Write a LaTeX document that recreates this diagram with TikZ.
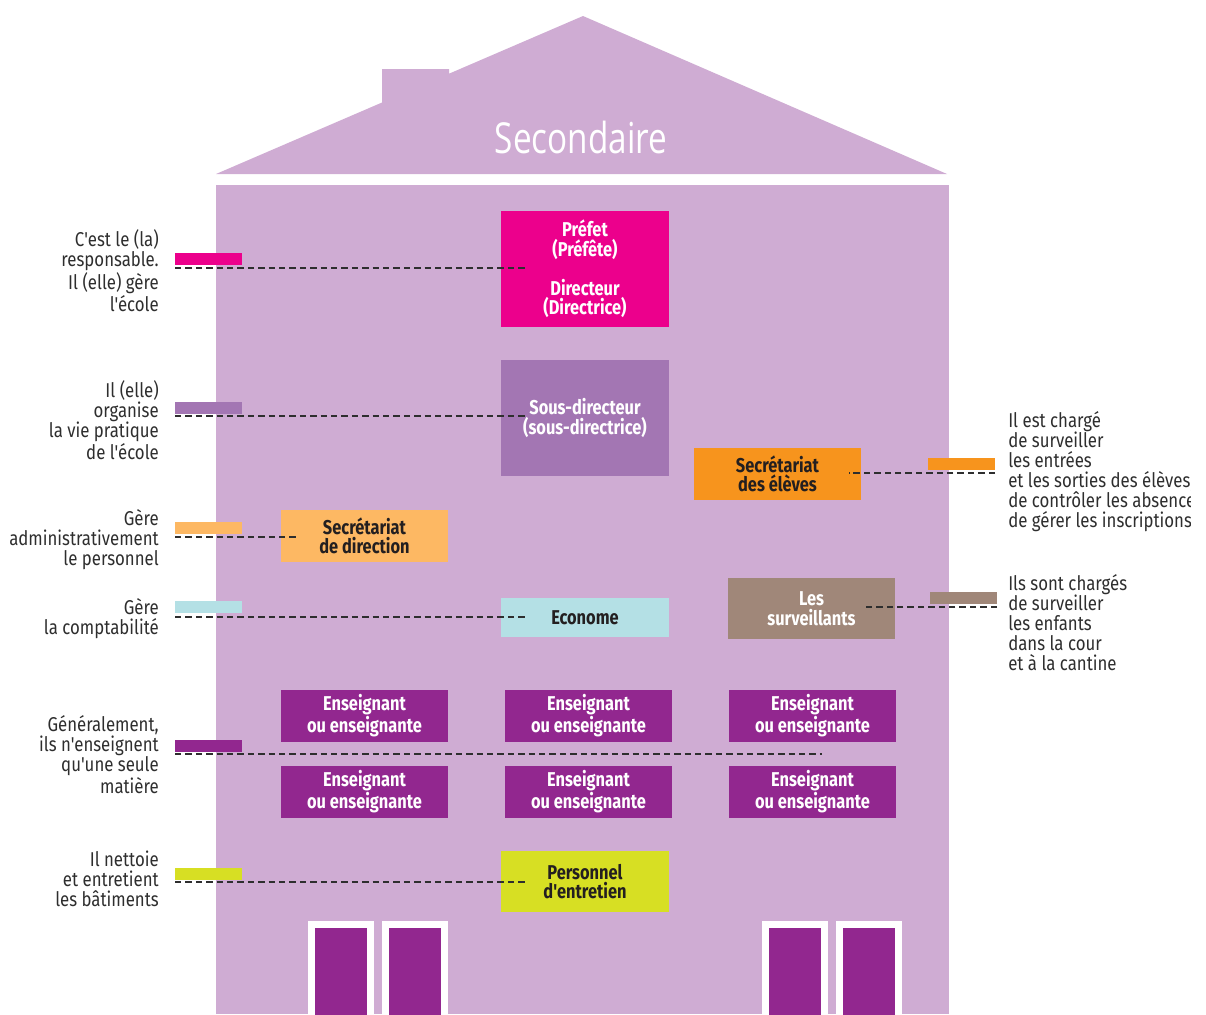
\documentclass[tikz,border=0pt]{standalone}
\usepackage{fontspec}
\newfontfamily\labfont[FakeStretch=0.84]{Fira Sans}
\newfontfamily\boxfont[FakeStretch=0.82]{Fira Sans}
\newfontfamily\titlefont[FakeStretch=0.78]{Open Sans}
\definecolor{house}{HTML}{CFACD3}
\definecolor{cprefet}{HTML}{EC008C}
\definecolor{csous}{HTML}{A376B3}
\definecolor{corange}{HTML}{F7941D}
\definecolor{clorange}{HTML}{FDB863}
\definecolor{ccyan}{HTML}{B4E0E5}
\definecolor{ctaupe}{HTML}{A08779}
\definecolor{cpurple}{HTML}{92278F}
\definecolor{clime}{HTML}{D7DF23}
\definecolor{cdark}{HTML}{231F20}
\definecolor{labgray}{HTML}{2E2E2E}
\tikzset{
  box/.style={rectangle, inner sep=0pt, align=center,
    font=\boxfont\bfseries\fontsize{15}{14.6}\selectfont},
  lab/.style={inner sep=0pt, text=labgray,
    font=\labfont\fontsize{15}{15}\selectfont},
  marker/.style={rectangle, inner sep=0pt, minimum width=50.25pt, minimum height=9pt},
  dashline/.style={draw=labgray, line width=1.1pt, dash pattern=on 4.8pt off 3pt},
}
\begin{document}
\begin{tikzpicture}[x=0.75pt,y=-0.75pt]
\useasboundingbox (0,0) rectangle (1206,1014);
% roof
\fill[house] (216,174) -- (382,102.5) -- (382,69) -- (449,69) -- (449,73.7) -- (583,16) -- (947,174) -- cycle;
\node[text=white, inner sep=0pt, font=\titlefont\fontsize{32}{36}\selectfont] (title) at (581,137) {Secondaire};
% body
\fill[house] (216,185) rectangle (949,1014);
% doors
\foreach \x in {308,382,762,836}{
  \fill[white] (\x,921) rectangle ++(66,100);
  \fill[cpurple] (\x+7,928) rectangle ++(52,100);
}
% boxes
\node[box, fill=cprefet, text=white, minimum width=126pt, minimum height=87pt] (prefet) at (585,269) {Préfet\\(Préfête)\\[14.6pt]Directeur\\(Directrice)};
\node[box, fill=csous, text=white, minimum width=126pt, minimum height=87pt] (sous) at (585,418) {Sous-directeur\\(sous-directrice)};
\node[box, fill=corange, text=cdark, minimum width=125.25pt, minimum height=39pt] (secel) at (777.5,474) {Secrétariat\\des élèves};
\node[box, fill=clorange, text=cdark, minimum width=125.25pt, minimum height=39pt] (secdir) at (364.5,536) {Secrétariat\\de direction};
\node[box, fill=ccyan, text=cdark, minimum width=126pt, minimum height=29.25pt] (econome) at (585,617.5) {Econome};
\node[box, fill=ctaupe, text=white, minimum width=125.25pt, minimum height=45.75pt] (surv) at (811.5,608.5) {Les\\surveillants};
\foreach \x/\n in {364.5/a,588.5/b,812.5/c}{
  \node[box, fill=cpurple, text=white, minimum width=125.25pt, minimum height=39pt] (ens1\n) at (\x,716) {Enseignant\\ou enseignante};
  \node[box, fill=cpurple, text=white, minimum width=125.25pt, minimum height=39pt] (ens2\n) at (\x,792) {Enseignant\\ou enseignante};
}
\node[box, fill=clime, text=cdark, minimum width=126pt, minimum height=45.75pt] (entretien) at (585,881.5) {Personnel\\d'entretien};
% markers
\node[marker, fill=cprefet] (m1) at (208.5,258.5) {};
\node[marker, fill=csous] (m2) at (208.5,407.5) {};
\node[marker, fill=clorange] (m3) at (208.5,528) {};
\node[marker, fill=ccyan] (m4) at (208.5,607) {};
\node[marker, fill=cpurple] (m5) at (208.5,746) {};
\node[marker, fill=clime] (m6) at (208.5,874) {};
\node[marker, fill=corange] (m7) at (961.5,464) {};
\node[marker, fill=ctaupe] (m8) at (963.5,598) {};
% dashed connectors
\coordinate (d1a) at (175,268); \coordinate (d1b) at (525,268);
\coordinate (d2a) at (175,416); \coordinate (d2b) at (525,416);
\coordinate (d3a) at (175,537); \coordinate (d3b) at (298,537);
\coordinate (d4a) at (175,617); \coordinate (d4b) at (525,617);
\coordinate (d5a) at (175,754); \coordinate (d5b) at (822,754);
\coordinate (d6a) at (175,882); \coordinate (d6b) at (525,882);
\coordinate (d7a) at (995,473); \coordinate (d7b) at (849,473);
\coordinate (d8a) at (997,607); \coordinate (d8b) at (864,607);
\foreach \i in {1,...,8}{ \draw[dashline] (d\i a) -- (d\i b); }
% left labels (base = baseline of last line)
\node[lab, anchor=base east, align=right] (t1) at (159,311) {C'est le (la)\\responsable.\\Il (elle) gère\\l'école};
\node[lab, anchor=base east, align=right] (t2) at (159,459) {Il (elle)\\organise\\la vie pratique\\de l'école};
\node[lab, anchor=base east, align=right] (t3) at (159,565) {Gère\\administrativement\\le personnel};
\node[lab, anchor=base east, align=right] (t4) at (159,634) {Gère\\la comptabilité};
\node[lab, anchor=base east, align=right] (t5) at (159,793) {Généralement,\\ils n'enseignent\\qu'une seule\\matière};
\node[lab, anchor=base east, align=right] (t6) at (159,906) {Il nettoie\\et entretient\\les bâtiments};
% right labels (clipped at right edge)
\begin{scope}
\clip (1000,380) rectangle (1190,700);
\node[lab, anchor=base west, align=left] (t7) at (1008,527) {Il est chargé\\de surveiller\\les entrées\\et les sorties des élèves,\\de contrôler les absences,\\de gérer les inscriptions};
\node[lab, anchor=base west, align=left] (t8) at (1008,670) {Ils sont chargés\\de surveiller\\les enfants\\dans la cour\\et à la cantine};
\end{scope}
\end{tikzpicture}
\end{document}
